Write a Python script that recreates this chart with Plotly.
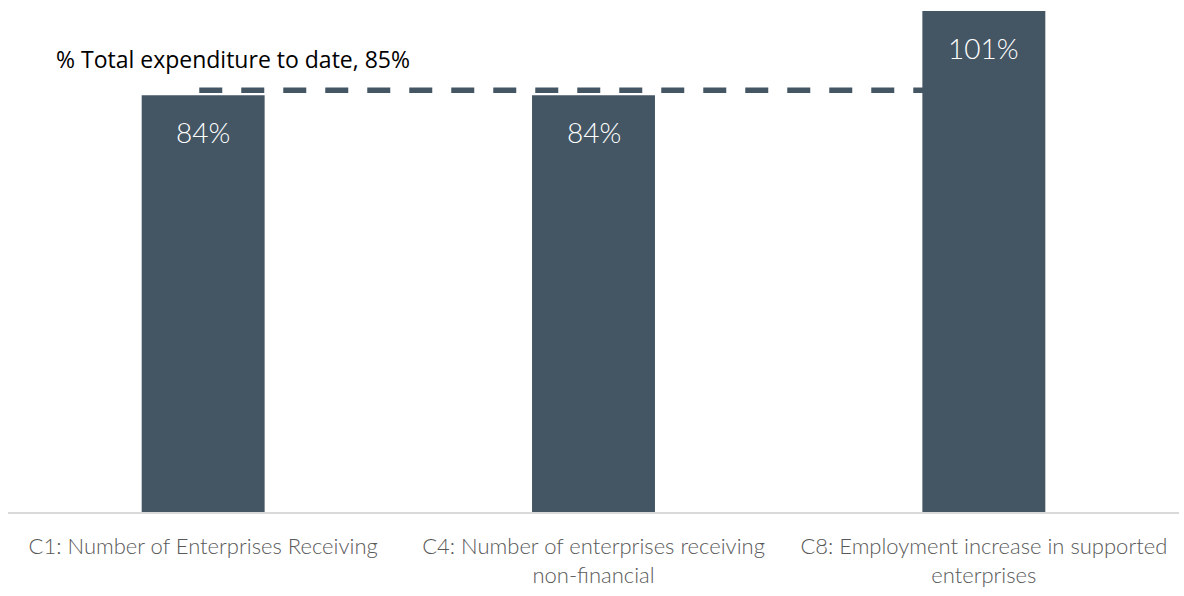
import plotly.graph_objects as go

categories = [
    "C1: Number of Enterprises Receiving",
    "C4: Number of enterprises receiving<br>non-financial",
    "C8: Employment increase in supported<br>enterprises",
]
values = [84, 84, 101]
value_labels = ["84%", "84%", "101%"]
target_value = 85
target_label = "% Total expenditure to date, 85%"

bar_color = "#445664"
label_font = "Lato"

fig = go.Figure()
fig.add_trace(go.Bar(
    x=categories,
    y=values,
    marker=dict(color=bar_color, line=dict(width=0)),
    hoverinfo="skip",
))

# value labels sit inside each bar, a little below the top
for cat, val, txt in zip(categories, values, value_labels):
    fig.add_annotation(
        x=cat, y=val, text=txt, showarrow=False,
        yanchor="top", yshift=-18,
        font=dict(family=label_font, size=28, color="white", weight=300),
    )

# dashed target line, running behind the bars
fig.add_shape(
    type="line", xref="x", yref="y",
    x0=-0.01, x1=2, y0=target_value, y1=target_value,
    line=dict(color=bar_color, width=5.5, dash="23px,19px"),
    layer="below",
)
fig.add_annotation(
    xref="paper", yref="y", x=0.039, y=target_value, text=target_label,
    showarrow=False, xanchor="left", yanchor="bottom", yshift=13,
    font=dict(family="Open Sans", size=23, color="#000000"),
)

fig.update_layout(
    width=1184, height=596,
    margin=dict(l=8, r=5, t=10, b=84),
    paper_bgcolor="white", plot_bgcolor="white",
    bargap=0.685,
    showlegend=False,
)
fig.update_xaxes(
    showline=True, linecolor="#d9d9d9", linewidth=1.5,
    showgrid=False, ticks="", ticklabelstandoff=14,
    tickfont=dict(family=label_font, size=22, color="#595959", weight=300),
)
fig.update_yaxes(
    range=[0, 101.2], visible=False, showgrid=False, zeroline=False,
)

fig.write_html("out.html")
